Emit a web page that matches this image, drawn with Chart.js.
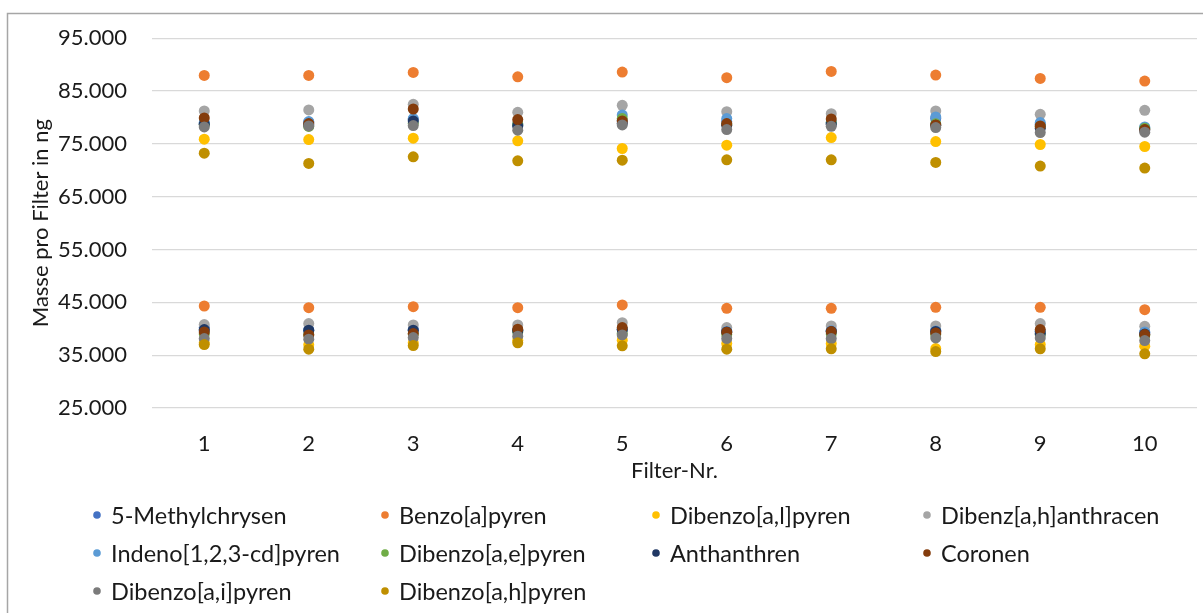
<!DOCTYPE html>
<html lang="de">
<head>
<meta charset="utf-8">
<title>Masse pro Filter</title>
<script src="https://cdn.jsdelivr.net/npm/chart.js@4.4.1/dist/chart.umd.min.js"></script>
<style>
  html, body { margin: 0; padding: 0; background: #ffffff; }
  #wrap { position: relative; width: 1203px; height: 613px; overflow: hidden; }
  canvas { display: block; }
</style>
</head>
<body>
<div id="wrap"><canvas id="chart" width="1203" height="613"></canvas></div>
<script>
// Filter numbers on the x axis
const filters = [1, 2, 3, 4, 5, 6, 7, 8, 9, 10];
// Y axis tick values (ng)
const yTicks = [25000, 35000, 45000, 55000, 65000, 75000, 85000, 95000];

// Compound names (legend order)
const compounds = [
  '5-Methylchrysen', 'Benzo[a]pyren', 'Dibenzo[a,l]pyren', 'Dibenz[a,h]anthracen',
  'Indeno[1,2,3-cd]pyren', 'Dibenzo[a,e]pyren', 'Anthanthren', 'Coronen',
  'Dibenzo[a,i]pyren', 'Dibenzo[a,h]pyren'
];

// Mass per filter, higher loading level (ng)
const methylchrysenHigh = [78900, 79100, 79600, 78500, 79400, 79200, 78900, 79800, 78700, 78000];
const benzoPyrenHigh    = [87960, 87960, 88520, 87700, 88590, 87520, 88710, 88020, 87390, 86890];
const dbAlPyrenHigh     = [75880, 75820, 76070, 75570, 74120, 74750, 76200, 75440, 74880, 74500];
const dbAhAnthraceneHigh= [81230, 81420, 82490, 80980, 82300, 81100, 80720, 81230, 80600, 81350];
const indenoPyrenHigh   = [79000, 79210, 79780, 78800, 80470, 79780, 79090, 80100, 79030, 78210];
const dbAePyrenHigh     = [78600, 78300, 78900, 78700, 79780, 78700, 79000, 78800, 78300, 77960];
const anthanthrenHigh   = [78700, 78600, 79340, 78400, 78900, 78500, 78700, 78500, 77960, 77600];
const coronenHigh       = [79910, 78840, 81600, 79590, 79340, 78840, 79720, 78590, 78400, 77710];
const dbAiPyrenHigh     = [78210, 78400, 78460, 77580, 78590, 77710, 78330, 78080, 77140, 77200];
const dbAhPyrenHigh     = [73240, 71290, 72550, 71790, 71920, 71980, 71980, 71480, 70790, 70410];

// Mass per filter, lower loading level (ng)
const methylchrysenLow  = [40220, 39800, 39900, 39700, 39900, 39600, 39700, 39700, 39500, 39300];
const benzoPyrenLow     = [44310, 43990, 44180, 43990, 44500, 43870, 43870, 44060, 44060, 43620];
const dbAlPyrenLow      = [37330, 36950, 37330, 37830, 37830, 37200, 37200, 36260, 37010, 36700];
const dbAhAnthraceneLow = [40790, 40980, 40720, 40720, 41160, 40220, 40540, 40540, 40980, 40470];
const indenoPyrenLow    = [39700, 39600, 39600, 39700, 39900, 39500, 39600, 39590, 39500, 39400];
const dbAePyrenLow      = [39000, 38900, 39000, 39400, 39100, 38900, 39000, 38900, 38900, 38700];
const anthanthrenLow    = [39840, 39720, 39720, 39600, 39800, 39400, 39500, 39500, 39090, 39000];
const coronenLow        = [39400, 38840, 39090, 39910, 40220, 39340, 39470, 39210, 39840, 38900];
const dbAiPyrenLow      = [38150, 38020, 38330, 38590, 38840, 38150, 38150, 38270, 38270, 37770];
const dbAhPyrenLow      = [37010, 36130, 36820, 37330, 36760, 36130, 36200, 35690, 36200, 35250];

const highSeries = [methylchrysenHigh, benzoPyrenHigh, dbAlPyrenHigh, dbAhAnthraceneHigh,
  indenoPyrenHigh, dbAePyrenHigh, anthanthrenHigh, coronenHigh, dbAiPyrenHigh, dbAhPyrenHigh];
const lowSeries = [methylchrysenLow, benzoPyrenLow, dbAlPyrenLow, dbAhAnthraceneLow,
  indenoPyrenLow, dbAePyrenLow, anthanthrenLow, coronenLow, dbAiPyrenLow, dbAhPyrenLow];

const colors = ['#4472C4', '#ED7D31', '#FFC000', '#A5A5A5', '#5B9BD5',
  '#70AD47', '#203864', '#843C0C', '#7B7B7B', '#BF8F00'];

const FONT = 'Lato, "Open Sans", sans-serif';
const TEXT = '#1a1a1a';

// German number format: 95000 -> "95.000"
function deNumber(v) {
  return String(Math.round(v)).replace(/\B(?=(\d{3})+(?!\d))/g, '.');
}

const datasets = compounds.map((name, i) => ({
  label: name,
  data: filters.map((f, k) => ({ x: f, y: highSeries[i][k] }))
    .concat(filters.map((f, k) => ({ x: f, y: lowSeries[i][k] }))),
  backgroundColor: colors[i],
  borderColor: colors[i],
  borderWidth: 0,
  pointRadius: 5.5,
  pointHoverRadius: 5.5,
  // later series sit on top of earlier ones
  order: compounds.length - i
}));

// Outer frame of the chart box
const framePlugin = {
  id: 'frame',
  beforeDraw(chart) {
    const ctx = chart.ctx;
    ctx.save();
    ctx.strokeStyle = '#a6a6a6';
    ctx.lineWidth = 1.5;
    ctx.beginPath();
    ctx.moveTo(7.5, chart.height + 2);
    ctx.lineTo(7.5, 13.5);
    ctx.lineTo(chart.width + 2, 13.5);
    ctx.stroke();
    ctx.restore();
  }
};

// Legend laid out in four aligned columns below the axis title
const gridLegendPlugin = {
  id: 'gridLegend',
  afterDraw(chart) {
    const ctx = chart.ctx;
    const colX = [97, 385, 656, 927];
    const rowY = [515, 553, 591];
    ctx.save();
    ctx.font = '23.5px ' + FONT;
    ctx.textBaseline = 'middle';
    ctx.textAlign = 'left';
    chart.data.datasets.forEach((ds, i) => {
      const x = colX[i % 4];
      const y = rowY[Math.floor(i / 4)];
      ctx.fillStyle = ds.backgroundColor;
      ctx.beginPath();
      ctx.arc(x, y, 3.8, 0, Math.PI * 2);
      ctx.fill();
      ctx.fillStyle = TEXT;
      ctx.fillText(ds.label, x + 14, y + 1);
    });
    ctx.restore();
  }
};

new Chart(document.getElementById('chart'), {
  type: 'scatter',
  data: { datasets },
  plugins: [framePlugin, gridLegendPlugin],
  options: {
    responsive: false,
    animation: false,
    devicePixelRatio: 1,
    layout: { padding: { left: 28, right: 6, top: 37, bottom: 129 } },
    plugins: {
      legend: { display: false },
      tooltip: { enabled: false }
    },
    scales: {
      x: {
        type: 'linear',
        min: 0.5,
        max: 10.5,
        afterBuildTicks(scale) { scale.ticks = filters.map(v => ({ value: v })); },
        afterFit(scale) { scale.height = 76; },
        grid: { display: false, drawTicks: false },
        border: { display: false },
        ticks: {
          padding: 23,
          color: TEXT,
          font: { family: FONT, size: 22 },
          maxRotation: 0,
          callback: v => String(v)
        },
        title: {
          display: true,
          text: 'Filter-Nr.',
          color: TEXT,
          font: { family: FONT, size: 22 },
          padding: 0
        }
      },
      y: {
        min: 25000,
        max: 95000,
        afterBuildTicks(scale) { scale.ticks = yTicks.map(v => ({ value: v })); },
        afterFit(scale) { scale.width = 124; },
        grid: { color: '#d9d9d9', lineWidth: 1.3, drawTicks: false },
        border: { display: false },
        ticks: {
          padding: 25,
          color: TEXT,
          font: { family: FONT, size: 22 },
          callback: v => deNumber(v)
        },
        title: {
          display: true,
          text: 'Masse pro Filter in ng',
          color: TEXT,
          font: { family: FONT, size: 22 },
          padding: 0
        }
      }
    }
  }
});
</script>
</body>
</html>
